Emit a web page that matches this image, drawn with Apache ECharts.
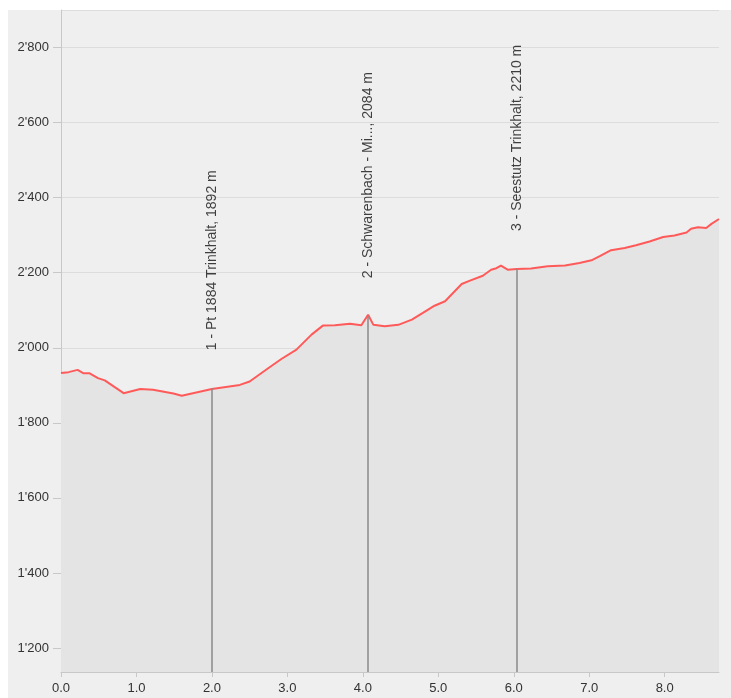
<!DOCTYPE html>
<html>
<head>
<meta charset="utf-8">
<script src="https://cdn.jsdelivr.net/npm/echarts@6/dist/echarts.min.js"></script>
<style>
  html, body { margin: 0; padding: 0; background: #ffffff; }
  #bg { position: absolute; left: 8px; top: 10px; width: 723px; height: 688px; background: #efefef; }
  #chart { position: absolute; left: 0; top: 0; width: 731px; height: 698px; }
</style>
</head>
<body>
<div id="bg"></div>
<div id="chart"></div>
<script>
// Elevation profile: distance (km) and elevation (m)
const distances = [0, 0.10, 0.22, 0.30, 0.38, 0.49, 0.58, 0.83, 1.05, 1.22, 1.49, 1.60, 2.00, 2.37, 2.50, 2.75, 2.92, 3.12, 3.32, 3.47, 3.63, 3.83, 3.98, 4.07, 4.14, 4.29, 4.47, 4.65, 4.86, 4.95, 5.09, 5.31, 5.42, 5.59, 5.70, 5.77, 5.83, 5.92, 6.04, 6.23, 6.45, 6.68, 6.87, 7.03, 7.14, 7.29, 7.47, 7.62, 7.80, 7.98, 8.13, 8.29, 8.35, 8.44, 8.55, 8.62, 8.72];
const elevations = [1933, 1935, 1941, 1932, 1932, 1919, 1913, 1879, 1890, 1888, 1878, 1872, 1890, 1901, 1910, 1946, 1970, 1995, 2035, 2059, 2060, 2064, 2060, 2088, 2061, 2057, 2061, 2075, 2101, 2112, 2124, 2170, 2179, 2192, 2208, 2212, 2219, 2208, 2210, 2211, 2217, 2219, 2226, 2233, 2244, 2260, 2266, 2273, 2283, 2295, 2299, 2307, 2317, 2321, 2319, 2330, 2343];

// Waypoints
const wpNames = ["1 - Pt 1884 Trinkhalt, 1892 m", "2 - Schwarenbach - Mi..., 2084 m", "3 - Seestutz Trinkhalt, 2210 m"];
const wpDistances = [2.00, 4.07, 6.04];
const wpElevations = [1892, 2084, 2210];

const yMin = 1136, yMax = 2900, xMax = 8.72;

const profile = distances.map((d, i) => [d, elevations[i]]);
const waypoints = wpDistances.map((d, i) => ({ value: [d, wpElevations[i]], name: wpNames[i] }));
const wpLines = wpDistances.map((d, i) => [{ coord: [d, wpElevations[i]] }, { coord: [d, yMin] }]);

const fmtThousands = v => {
  const s = String(Math.round(v));
  return s.replace(/\B(?=(\d{3})+(?!\d))/g, "'");
};

const chart = echarts.init(document.getElementById('chart'));
chart.setOption({
  animation: false,
  textStyle: { fontFamily: 'Liberation Sans, Arial, sans-serif' },
  grid: { left: 61, right: 12, top: 10, bottom: 26 },
  xAxis: {
    type: 'value', min: 0, max: xMax, interval: 1,
    axisLine: { show: true, lineStyle: { color: '#c8c8c8', width: 1 } },
    axisTick: { show: true, length: 5, lineStyle: { color: '#c8c8c8' } },
    axisLabel: { color: '#333', fontSize: 13, margin: 10, showMaxLabel: false,
      formatter: v => v.toFixed(1) },
    splitLine: { show: false }
  },
  yAxis: {
    type: 'value', min: yMin, max: yMax, splitNumber: 9,
    axisLine: { show: true, lineStyle: { color: '#c8c8c8', width: 1 } },
    axisTick: { show: true, length: 8, lineStyle: { color: '#c8c8c8' } },
    axisLabel: { color: '#333', fontSize: 13, margin: 12, showMinLabel: false, showMaxLabel: false,
      formatter: fmtThousands },
    splitLine: { show: true, lineStyle: { color: '#dcdcdc', width: 1 } }
  },
  series: [
    {
      type: 'line', data: profile, symbol: 'none', smooth: false,
      lineStyle: { color: '#ff5a5a', width: 2 },
      areaStyle: { color: '#e4e4e4', opacity: 1, origin: 'start' },
      z: 2
    },
    {
      type: 'scatter', data: waypoints, symbolSize: 0, z: 3,
      label: {
        show: true, position: 'top', distance: 38, rotate: 90,
        align: 'left', verticalAlign: 'middle',
        color: '#111', fontSize: 14,
        formatter: p => p.name
      },
      markLine: {
        silent: true, symbol: 'none',
        lineStyle: { color: '#8a8a8a', width: 1.5, type: 'solid' },
        label: { show: false },
        data: wpLines
      }
    }
  ]
});
</script>
</body>
</html>
